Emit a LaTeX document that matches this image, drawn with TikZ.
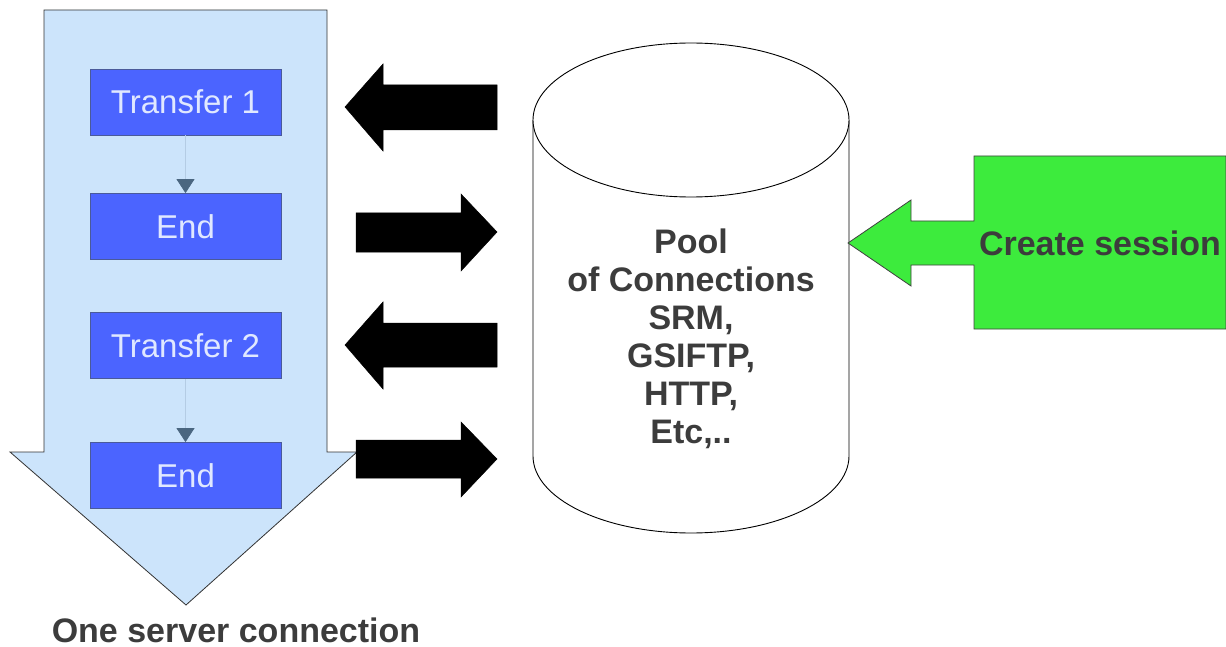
\documentclass[tikz,border=0pt]{standalone}
\usepackage{fontspec}
\setmainfont{Liberation Sans}
\usetikzlibrary{arrows.meta}
\definecolor{lightblue}{HTML}{CCE4FB}
\definecolor{boxblue}{HTML}{4B64FF}
\definecolor{boxedge}{HTML}{4A5A9A}
\definecolor{boxtext}{HTML}{E0E8FF}
\definecolor{darktext}{HTML}{3C3C3C}
\definecolor{conngray}{HTML}{B4CCE4}
\definecolor{tipslate}{HTML}{4A6680}
\definecolor{sessgreen}{HTML}{3DEB3D}
\tikzset{
  stepbox/.style={rectangle, fill=boxblue, draw=boxedge, line width=0.8pt,
    minimum width=191pt, minimum height=66pt, inner sep=0pt,
    text=boxtext, font=\fontsize{33}{38}\selectfont},
  conn/.style={draw=conngray, line width=0.8pt,
    -{Triangle[width=18pt,length=14pt,color=tipslate]}},
  blockarrow/.style={fill=black, draw=black, line width=0.5pt},
  boldlabel/.style={text=darktext, font=\fontsize{34}{38}\selectfont\bfseries, inner sep=0pt},
}
\begin{document}
\begin{tikzpicture}[x=1pt,y=-1pt]
\useasboundingbox (0,0) rectangle (1226,647);
% big light-blue down arrow
\draw[fill=lightblue, draw=black!80, line width=0.8pt]
  (44,10) -- (327,10) -- (327,452) -- (357,452) -- (186,605) -- (10,452) -- (44,452) -- cycle;
% step boxes
\node[stepbox] (t1) at (185.5,102) {Transfer 1};
\node[stepbox] (e1) at (185.5,226.5) {End};
\node[stepbox] (t2) at (185.5,345.5) {Transfer 2};
\node[stepbox] (e2) at (185.5,475.5) {End};
\draw[conn] (t1) -- (e1);
\draw[conn] (t2) -- (e2);
\node[boldlabel, anchor=base] (osc) at (236,642) {One server connection};
% black block arrows
\path[blockarrow] (345,107) -- (383,64) -- (383,85) -- (497,85) -- (497,130) -- (383,130) -- (383,151) -- cycle;
\path[blockarrow] (497,232) -- (461,194) -- (461,213) -- (356,213) -- (356,252) -- (461,252) -- (461,271) -- cycle;
\path[blockarrow] (345,345) -- (383,302) -- (383,323) -- (497,323) -- (497,367) -- (383,367) -- (383,389) -- cycle;
\path[blockarrow] (497,459) -- (461,422) -- (461,440) -- (356,440) -- (356,478) -- (461,478) -- (461,497) -- cycle;
% cylinder
\draw[fill=white, draw=black, line width=0.9pt]
  (533,120) -- (533,456) arc[start angle=180, end angle=360, x radius=158, y radius=-77] -- (849,120);
\draw[fill=white, draw=black, line width=0.9pt] (691,120) ellipse[x radius=158, y radius=77];
\node[boldlabel, align=center] (pool) at (691,339) {Pool\\of Connections\\SRM,\\GSIFTP,\\HTTP,\\Etc,..};
% green create session arrow
\draw[fill=sessgreen, draw=black!75, line width=0.8pt]
  (974,156) -- (1226,156) -- (1226,329) -- (974,329) -- (974,265) -- (911,265) -- (911,286)
  -- (848,243) -- (911,200) -- (911,221) -- (974,221) -- cycle;
\node[boldlabel] (cs) at (1100,243) {Create session};
\end{tikzpicture}
\end{document}
